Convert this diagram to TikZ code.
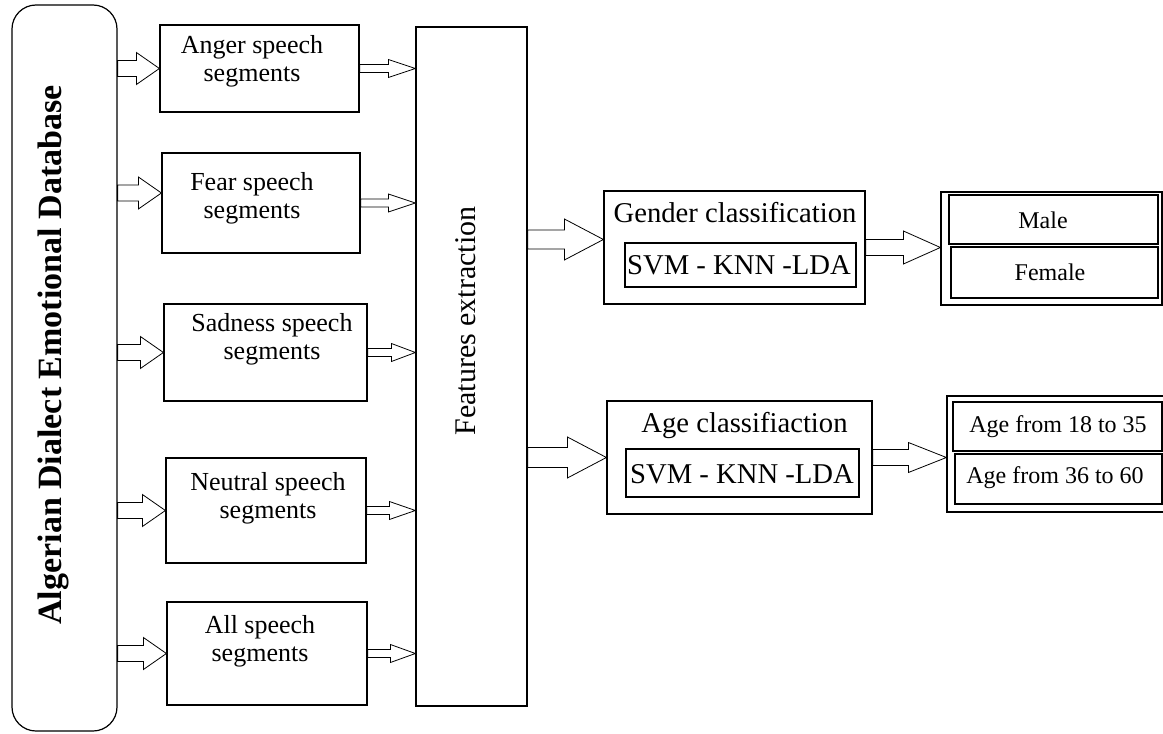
\documentclass[tikz,border=0pt]{standalone}
\usepackage{fontspec}
\setmainfont{Liberation Serif}
\usetikzlibrary{calc,fit}

% hollow block arrow: start, tip, shaft half width, head half width, head length
\newcommand{\blockarrow}[5]{%
    \draw[arrowbody] ($(#1)+(0,-#3)$) -- ($(#2)+(-#5,-#3)$) -- ($(#2)+(-#5,-#4)$) -- (#2)
        -- ($(#2)+(-#5,#4)$) -- ($(#2)+(-#5,#3)$) -- ($(#1)+(0,#3)$) -- cycle;}

\begin{document}
\begin{tikzpicture}[
    x=0.75pt, y=-0.75pt,
    every node/.style={inner sep=0pt},
    box/.style={draw, line width=0.9pt},
    segtext/.style={font=\fontsize{19.5}{21}\selectfont, align=center},
    titletext/.style={font=\fontsize{21.5}{24}\selectfont},
    classtext/.style={font=\fontsize{18}{20}\selectfont},
    arrowbody/.style={draw, fill=white, line width=0.6pt}
]
    \useasboundingbox (0,0) rectangle (1163,734);

    % Database
    \node[box, rounded corners=18pt, fit={(12,5) (117,731)}] (db) {};
    \node[rotate=90, font=\fontsize{25.5}{28}\selectfont\bfseries] (dbtext) at (53.5,355) {Algerian Dialect Emotional Database};

    % Speech segments
    \node[box, fit={(160,25) (359,112)}] (anger) {};
    \node[box, fit={(162,153) (360,253)}] (fear) {};
    \node[box, fit={(164,304) (367,401)}] (sad) {};
    \node[box, fit={(166,458) (366,563)}] (neutral) {};
    \node[box, fit={(167,602) (367,705)}] (all) {};
    \node[segtext] (angertext) at (252,61) {Anger speech\\segments};
    \node[segtext] (feartext) at (252,198) {Fear speech\\segments};
    \node[segtext] (sadtext) at (272,339) {Sadness speech\\segments};
    \node[segtext] (neutraltext) at (268,498) {Neutral speech\\segments};
    \node[segtext] (alltext) at (260,641) {All speech\\segments};

    % Features extraction
    \node[box, fit={(416,27) (527,706)}] (feat) {};
    \node[rotate=90, font=\fontsize{22.5}{25}\selectfont] (feattext) at (466,321) {Features extraction};

    % Classifiers
    \node[box, fit={(604,191) (865,304)}] (gender) {};
    \node[box, fit={(625,243) (856,287)}] (gendermethod) {};
    \node[titletext] (gendertext) at (735,213) {Gender classification};
    \node[titletext] (gendersvm) at (739,265.5) {SVM - KNN -LDA};

    \node[box, fit={(607,401) (872,514)}] (age) {};
    \node[box, fit={(626,449) (859,497)}] (agemethod) {};
    \node[titletext] (agetext) at (744.5,425) {Age classifiaction};
    \node[titletext] (agesvm) at (742,474) {SVM - KNN -LDA};

    % Results
    \node[box, fit={(941,192) (1162,305)}] (genres) {};
    \node[box, fit={(949,195) (1158,244)}] (male) {};
    \node[box, fit={(951,247) (1158,298)}] (female) {};
    \node[classtext] (maletext) at (1043,220) {Male};
    \node[classtext] (femaletext) at (1050,272) {Female};

    \node[box, fit={(947,396) (1175,512)}] (ageres) {};
    \node[box, fit={(953,402) (1162,451)}] (young) {};
    \node[box, fit={(955,454) (1162,504)}] (old) {};
    \node[classtext] (youngtext) at (1058,427) {Age from 18 to 35};
    \node[classtext] (oldtext) at (1055,478) {Age from 36 to 60};

    % Arrows
    \coordinate (fearin) at ($(fear.west)+(0,-10)$);
    \coordinate (genderin) at ($(gender.west)+(0,-8)$);

    \blockarrow{db.east|-anger.west}{anger.west}{8}{16}{23}
    \blockarrow{db.east|-fearin}{fearin}{8}{16}{23}
    \blockarrow{db.east|-sad.west}{sad.west}{8}{16}{23}
    \blockarrow{db.east|-neutral.west}{neutral.west}{8}{16}{23}
    \blockarrow{db.east|-all.west}{all.west}{8}{16}{23}

    \blockarrow{anger.east}{anger.east-|feat.west}{4}{9}{27}
    \blockarrow{fear.east}{fear.east-|feat.west}{4}{9}{27}
    \blockarrow{sad.east}{sad.east-|feat.west}{4}{9}{24}
    \blockarrow{neutral.east}{neutral.east-|feat.west}{4}{9}{26}
    \blockarrow{all.east}{all.east-|feat.west}{4}{9}{25}

    \blockarrow{feat.east|-genderin}{genderin}{9.5}{20.5}{39}
    \blockarrow{feat.east|-age.west}{age.west}{10}{20.5}{39}

    \blockarrow{gender.east}{gender.east-|genres.west}{8}{16.5}{37}
    \blockarrow{age.east}{age.east-|ageres.west}{8}{15}{38}
\end{tikzpicture}
\end{document}
